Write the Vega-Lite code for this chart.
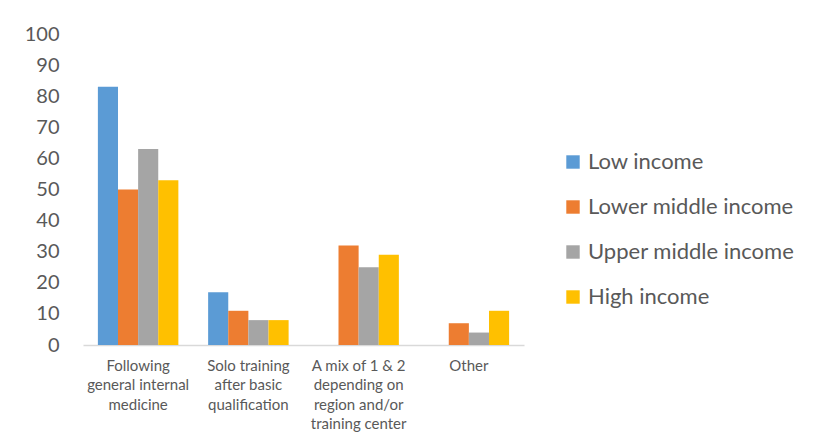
{
  "$schema": "https://vega.github.io/schema/vega-lite/v6.json",
  "width": 441,
  "height": 311,
  "autosize": {"type": "none"},
  "padding": {"left": 83, "top": 34, "right": 299, "bottom": 102},
  "background": "white",
  "config": {"view": {"stroke": null}, "font": "Lato"},
  "data": {
    "values": [
      {"cat": "Following general internal medicine", "series": "Low income", "value": 83},
      {"cat": "Following general internal medicine", "series": "Lower middle income", "value": 50},
      {"cat": "Following general internal medicine", "series": "Upper middle income", "value": 63},
      {"cat": "Following general internal medicine", "series": "High income", "value": 53},
      {"cat": "Solo training after basic qualification", "series": "Low income", "value": 17},
      {"cat": "Solo training after basic qualification", "series": "Lower middle income", "value": 11},
      {"cat": "Solo training after basic qualification", "series": "Upper middle income", "value": 8},
      {"cat": "Solo training after basic qualification", "series": "High income", "value": 8},
      {"cat": "A mix of 1 & 2 depending on region and/or training center", "series": "Low income", "value": 0},
      {"cat": "A mix of 1 & 2 depending on region and/or training center", "series": "Lower middle income", "value": 32},
      {"cat": "A mix of 1 & 2 depending on region and/or training center", "series": "Upper middle income", "value": 25},
      {"cat": "A mix of 1 & 2 depending on region and/or training center", "series": "High income", "value": 29},
      {"cat": "Other", "series": "Low income", "value": 0},
      {"cat": "Other", "series": "Lower middle income", "value": 7},
      {"cat": "Other", "series": "Upper middle income", "value": 4},
      {"cat": "Other", "series": "High income", "value": 11}
    ]
  },
  "mark": {"type": "bar"},
  "encoding": {
    "x": {
      "field": "cat",
      "type": "nominal",
      "sort": null,
      "title": null,
      "scale": {"paddingInner": 0.27, "paddingOuter": 0.135},
      "axis": {
        "labelAngle": 0,
        "ticks": false,
        "domainColor": "#d9d9d9",
        "domainWidth": 1.5,
        "labelFontSize": 15,
        "labelColor": "#595959",
        "labelPadding": 13,
        "labelLineHeight": 19.5,
        "labelBaseline": "top",
        "labelExpr": "datum.value == 'Following general internal medicine' ? ['Following', 'general internal', 'medicine'] : datum.value == 'Solo training after basic qualification' ? ['Solo training', 'after basic', 'qualification'] : datum.value == 'Other' ? 'Other' : ['A mix of 1 & 2', 'depending on', 'region and/or', 'training center']"
      }
    },
    "xOffset": {
      "field": "series",
      "type": "nominal",
      "sort": ["Low income", "Lower middle income", "Upper middle income", "High income"],
      "scale": {"paddingInner": 0, "paddingOuter": 0}
    },
    "y": {
      "field": "value",
      "type": "quantitative",
      "title": null,
      "scale": {"domain": [0, 100], "nice": false},
      "axis": {
        "values": [0, 10, 20, 30, 40, 50, 60, 70, 80, 90, 100],
        "domain": false,
        "ticks": false,
        "grid": false,
        "labelFontSize": 20,
        "labelColor": "#595959",
        "labelPadding": 24
      }
    },
    "color": {
      "field": "series",
      "type": "nominal",
      "sort": ["Low income", "Lower middle income", "Upper middle income", "High income"],
      "scale": {
        "domain": ["Low income", "Lower middle income", "Upper middle income", "High income"],
        "range": ["#5B9BD5", "#ED7D31", "#A5A5A5", "#FFC000"]
      },
      "legend": {
        "title": null,
        "orient": "none",
        "legendX": 479,
        "legendY": 117,
        "symbolType": "square",
        "symbolSize": 180,
        "symbolStrokeWidth": 0,
        "labelFontSize": 22,
        "labelColor": "#595959",
        "labelOffset": 4,
        "rowPadding": 23,
        "labelLimit": 300
      }
    }
  }
}
